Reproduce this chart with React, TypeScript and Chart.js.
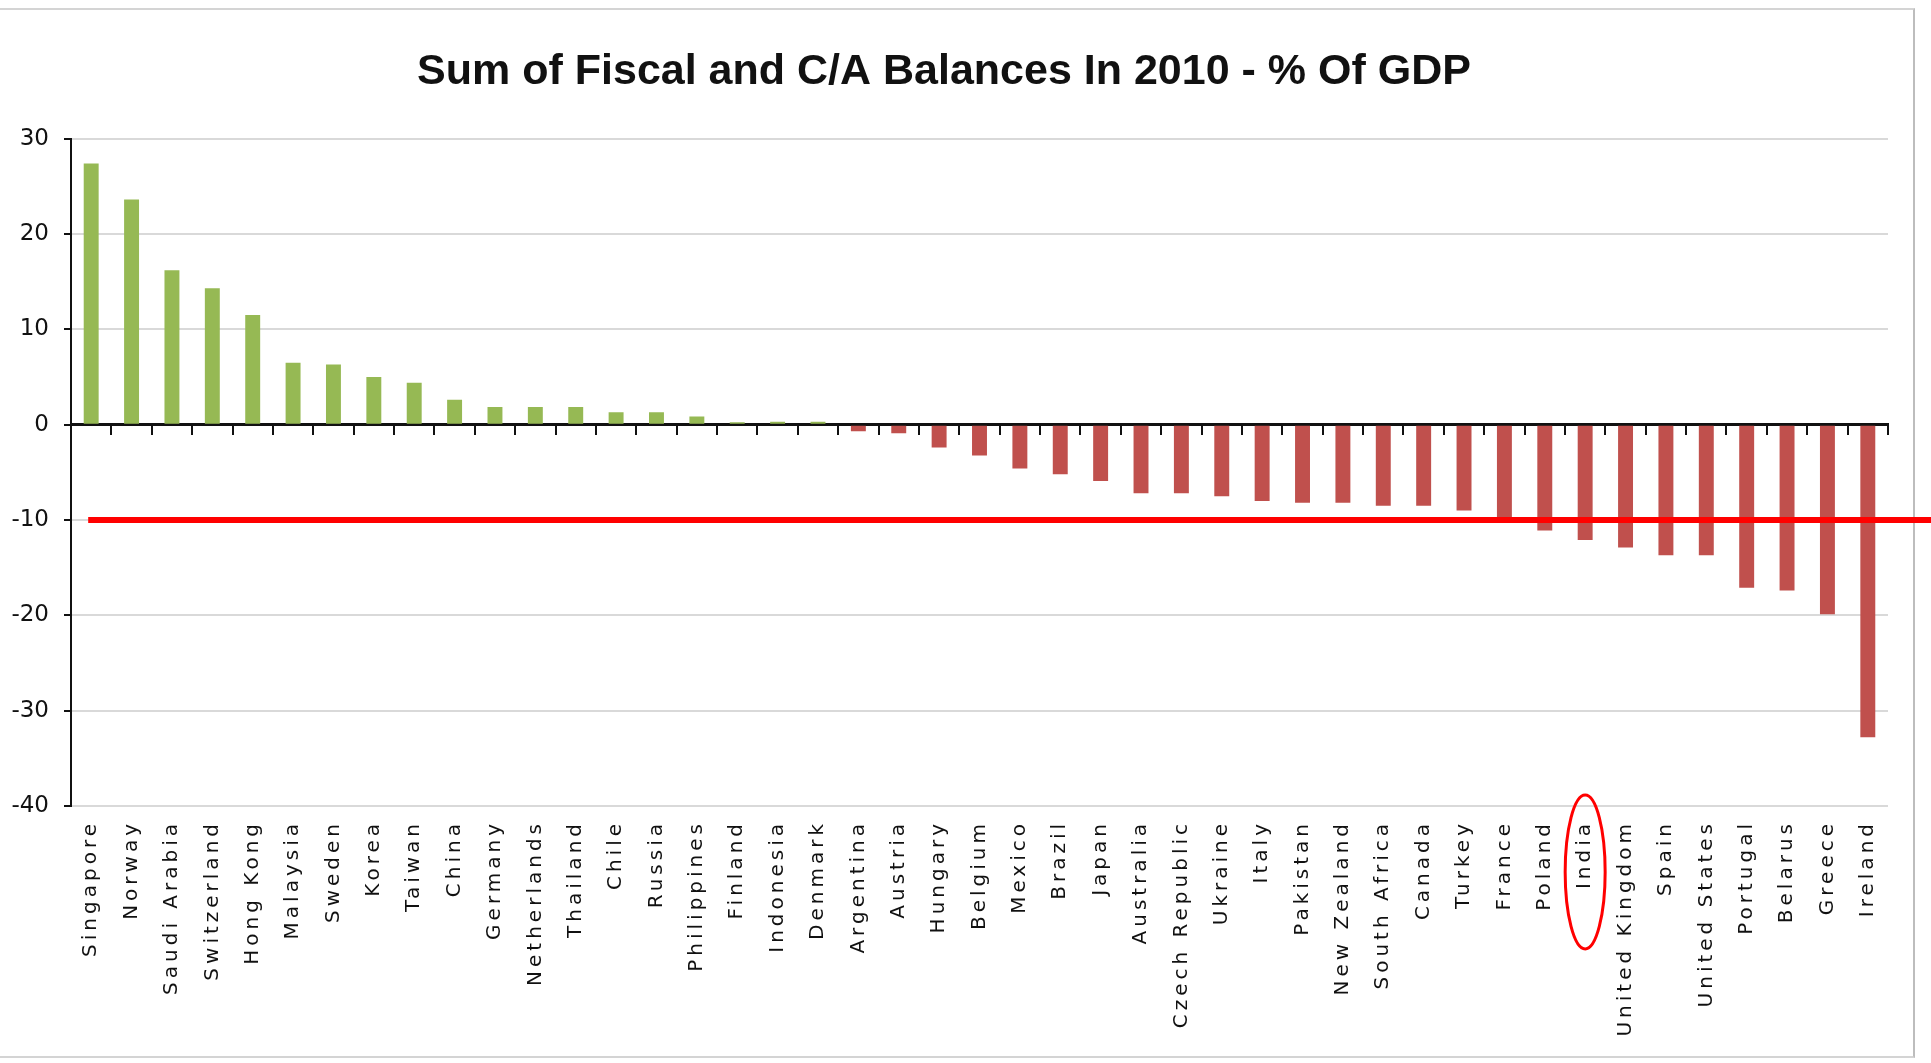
import React, { useEffect, useRef } from "react";
import { Chart, registerables } from "chart.js";

Chart.register(...registerables);

const TITLE = "Sum of Fiscal and C/A Balances In 2010 - % Of GDP";

const countries = [
  "Singapore", "Norway", "Saudi Arabia", "Switzerland", "Hong Kong", "Malaysia",
  "Sweden", "Korea", "Taiwan", "China", "Germany", "Netherlands", "Thailand",
  "Chile", "Russia", "Philippines", "Finland", "Indonesia", "Denmark",
  "Argentina", "Austria", "Hungary", "Belgium", "Mexico", "Brazil", "Japan",
  "Australia", "Czech Republic", "Ukraine", "Italy", "Pakistan", "New Zealand",
  "South Africa", "Canada", "Turkey", "France", "Poland", "India",
  "United Kingdom", "Spain", "United States", "Portugal", "Belarus", "Greece",
  "Ireland",
];

const balances = [
  27.4, 23.6, 16.2, 14.3, 11.5, 6.5,
  6.3, 5.0, 4.4, 2.6, 1.85, 1.85, 1.85,
  1.3, 1.3, 0.85, 0.25, 0.3, 0.3,
  -0.7, -0.9, -2.4, -3.25, -4.6, -5.2, -5.9,
  -7.2, -7.2, -7.5, -8.0, -8.2, -8.2,
  -8.5, -8.5, -9.0, -9.8, -11.1, -12.1,
  -12.9, -13.7, -13.7, -17.1, -17.4, -19.9,
  -32.8,
];

const yTicks = [30, 20, 10, 0, -10, -20, -30, -40];
const thresholdValue = -10;
const highlighted = "India";

const POS_COLOR = "#96b954";
const NEG_COLOR = "#c0504d";

const overlayPlugin = {
  id: "overlay",
  afterDatasetsDraw(chart: any) {
    const { ctx, scales } = chart;
    const x = scales.x;
    const y = scales.y;
    const yy = y.getPixelForValue(thresholdValue);
    ctx.save();
    ctx.strokeStyle = "#ff0000";
    ctx.lineWidth = 6;
    ctx.beginPath();
    ctx.moveTo(x.getPixelForValue(0) - 3, yy);
    ctx.lineTo(chart.width, yy);
    ctx.stroke();
    ctx.restore();
    // wider letter spacing for the category labels, drawn next (z = 1)
    ctx.letterSpacing = "4px";
  },
  afterDraw(chart: any) {
    const { ctx, scales, chartArea } = chart;
    ctx.letterSpacing = "0px";
    const idx = countries.indexOf(highlighted);
    if (idx < 0) return;
    const cx = scales.x.getPixelForValue(idx);
    const cy = chartArea.bottom + 66;
    ctx.save();
    ctx.strokeStyle = "#ff0000";
    ctx.lineWidth = 3;
    ctx.beginPath();
    ctx.ellipse(cx, cy, 20, 77, 0, 0, Math.PI * 2);
    ctx.stroke();
    ctx.restore();
  },
};

export default function App() {
  const canvasRef = useRef<HTMLCanvasElement | null>(null);

  useEffect(() => {
    if (!canvasRef.current) return;
    const chart = new Chart(canvasRef.current, {
      type: "bar",
      data: {
        labels: countries,
        datasets: [
          {
            data: balances,
            backgroundColor: balances.map((v) => (v >= 0 ? POS_COLOR : NEG_COLOR)),
            borderWidth: 0,
            barPercentage: 0.37,
            categoryPercentage: 1,
          },
        ],
      },
      options: {
        responsive: false,
        animation: false,
        devicePixelRatio: 1,
        layout: { padding: { top: 0, right: 43, bottom: 0, left: 0 } },
        plugins: {
          legend: { display: false },
          tooltip: { enabled: false },
          title: {
            display: true,
            text: TITLE,
            color: "#111111",
            font: {
              family: '"Liberation Sans", sans-serif',
              size: 43,
              weight: "bold",
              lineHeight: 1.2,
            },
            padding: { top: 46, bottom: 41 },
          },
        },
        scales: {
          x: {
            type: "category",
            position: "bottom",
            offset: true,
            grid: { display: false, offset: true },
            border: { display: false },
            afterFit: (scale: any) => {
              scale.height = 257;
            },
            ticks: {
              z: 1,
              autoSkip: false,
              minRotation: 90,
              maxRotation: 90,
              padding: 6,
              color: "#111111",
              font: { family: '"DejaVu Sans", sans-serif', size: 20 },
            },
          },
          x2: {
            type: "category",
            position: { y: 0 },
            offset: true,
            grid: {
              display: true,
              offset: true,
              drawOnChartArea: false,
              drawTicks: true,
              tickLength: 9,
              tickWidth: 2,
              tickColor: "#111111",
              lineWidth: 2,
            },
            border: { display: true, color: "#111111", width: 3 },
            ticks: { display: false },
          },
          y: {
            type: "linear",
            min: -40,
            max: 30,
            afterFit: (scale: any) => {
              scale.width = 71;
            },
            afterBuildTicks: (scale: any) => {
              scale.ticks = yTicks.map((v) => ({ value: v }));
            },
            grid: {
              color: "#d9d9d9",
              lineWidth: 2,
              drawTicks: true,
              tickLength: 7,
              tickColor: "#111111",
              tickWidth: 2,
            },
            border: { display: true, color: "#111111", width: 2 },
            ticks: {
              padding: 15,
              color: "#111111",
              font: { family: '"DejaVu Sans", sans-serif', size: 23 },
            },
          },
        },
      },
      plugins: [overlayPlugin],
    } as any);
    return () => chart.destroy();
  }, []);

  return (
    <div
      style={{
        position: "fixed",
        left: 0,
        top: 0,
        width: 1931,
        height: 1063,
        background: "#ffffff",
        overflow: "hidden",
      }}
    >
      <div
        style={{
          position: "absolute",
          left: 0,
          top: 8,
          width: 1913,
          height: 1046,
          borderTop: "2px solid #d4d4d4",
          borderRight: "2px solid #bdbdbd",
          borderBottom: "2px solid #d4d4d4",
        }}
      />
      <canvas
        ref={canvasRef}
        width={1931}
        height={1063}
        style={{ position: "absolute", left: 0, top: 0, display: "block" }}
      />
    </div>
  );
}
